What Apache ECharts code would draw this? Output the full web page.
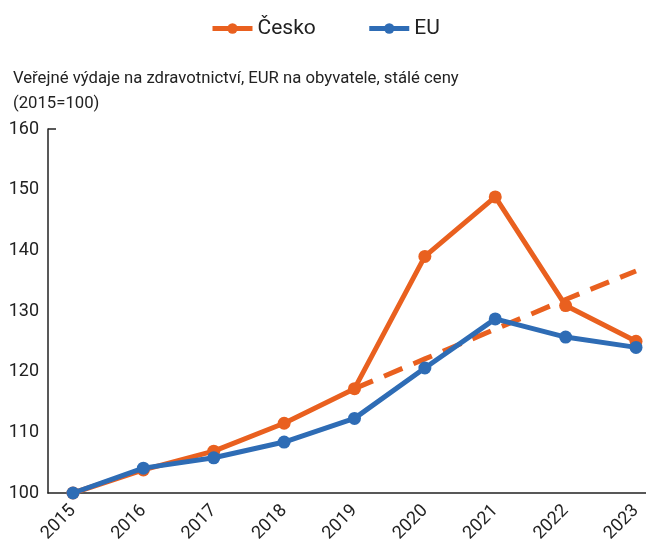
<!DOCTYPE html>
<html>
<head>
<meta charset="utf-8">
<script src="https://cdn.jsdelivr.net/npm/echarts@6/dist/echarts.min.js"></script>
<style>
  html, body { margin: 0; padding: 0; background: #fff; }
  #main { width: 646px; height: 543px; }
</style>
</head>
<body>
<div id="main"></div>
<script>
var years = [2015, 2016, 2017, 2018, 2019, 2020, 2021, 2022, 2023];
var cesko = [100, 103.8, 106.9, 111.5, 117.2, 139.0, 148.8, 130.9, 125.0];
var eu = [100, 104.1, 105.8, 108.4, 112.3, 120.6, 128.7, 125.7, 124.0];
// trend from 2019 onwards
var trend = [null, null, null, null, 117.2, 122.1, 127.0, 131.9, 136.6];
var yTicks = [100, 110, 120, 130, 140, 150, 160];

var orange = '#E9601F';
var blue = '#2E6CB5';
var font = 'Roboto';

function pairs(arr) {
  var out = [];
  for (var i = 0; i < years.length; i++) {
    if (arr[i] != null) out.push([years[i], arr[i]]);
  }
  return out;
}

var myChart = echarts.init(document.getElementById('main'));
var option = {
  animation: false,
  textStyle: { fontFamily: font },
  title: {
    text: 'Veřejné výdaje na zdravotnictví, EUR na obyvatele, stálé ceny\n(2015=100)',
    left: 8,
    top: 61,
    textStyle: { fontFamily: font, fontSize: 16.7, fontWeight: 'normal', color: '#222', lineHeight: 25 }
  },
  legend: {
    top: 13,
    left: 205,
    itemGap: 51,
    itemWidth: 40,
    itemHeight: 13,
    lineStyle: { width: 5 },
    textStyle: { fontFamily: font, fontSize: 21, color: '#222' },
    data: ['Česko', 'EU']
  },
  grid: { left: 48, right: 0, top: 129, bottom: 50, containLabel: false, outerBoundsMode: 'none' },
  xAxis: {
    type: 'value',
    min: 2014.645,
    max: 2023.142,
    splitLine: { show: false },
    axisLine: { show: true, onZero: false, lineStyle: { color: '#222', width: 1.5 } },
    axisTick: { show: false },
    axisLabel: {
      customValues: years,
      rotate: 45,
      color: '#222',
      fontSize: 18,
      margin: 15,
      formatter: function (v) { return String(Math.round(v)); }
    }
  },
  yAxis: {
    type: 'value',
    min: 100,
    max: 160,
    interval: 10,
    splitLine: { show: false },
    axisLine: { show: true, lineStyle: { color: '#222', width: 1.5 } },
    axisTick: { show: true, inside: true, length: 8, customValues: [160], lineStyle: { color: '#222', width: 1.5 } },
    axisLabel: { customValues: yTicks, color: '#222', fontSize: 18, margin: 9 }
  },
  series: [
    {
      name: 'Česko',
      type: 'line',
      data: pairs(cesko),
      color: orange,
      symbol: 'circle',
      symbolSize: 13,
      lineStyle: { width: 5, color: orange },
      itemStyle: { color: orange },
      z: 3
    },
    {
      name: 'trend',
      type: 'line',
      data: pairs(trend),
      symbol: 'none',
      lineStyle: { width: 5, color: orange, type: [20, 12], cap: 'butt' },
      z: 2
    },
    {
      name: 'EU',
      type: 'line',
      data: pairs(eu),
      color: blue,
      symbol: 'circle',
      symbolSize: 13,
      lineStyle: { width: 5, color: blue },
      itemStyle: { color: blue },
      z: 4
    }
  ]
};
myChart.setOption(option);
</script>
</body>
</html>
